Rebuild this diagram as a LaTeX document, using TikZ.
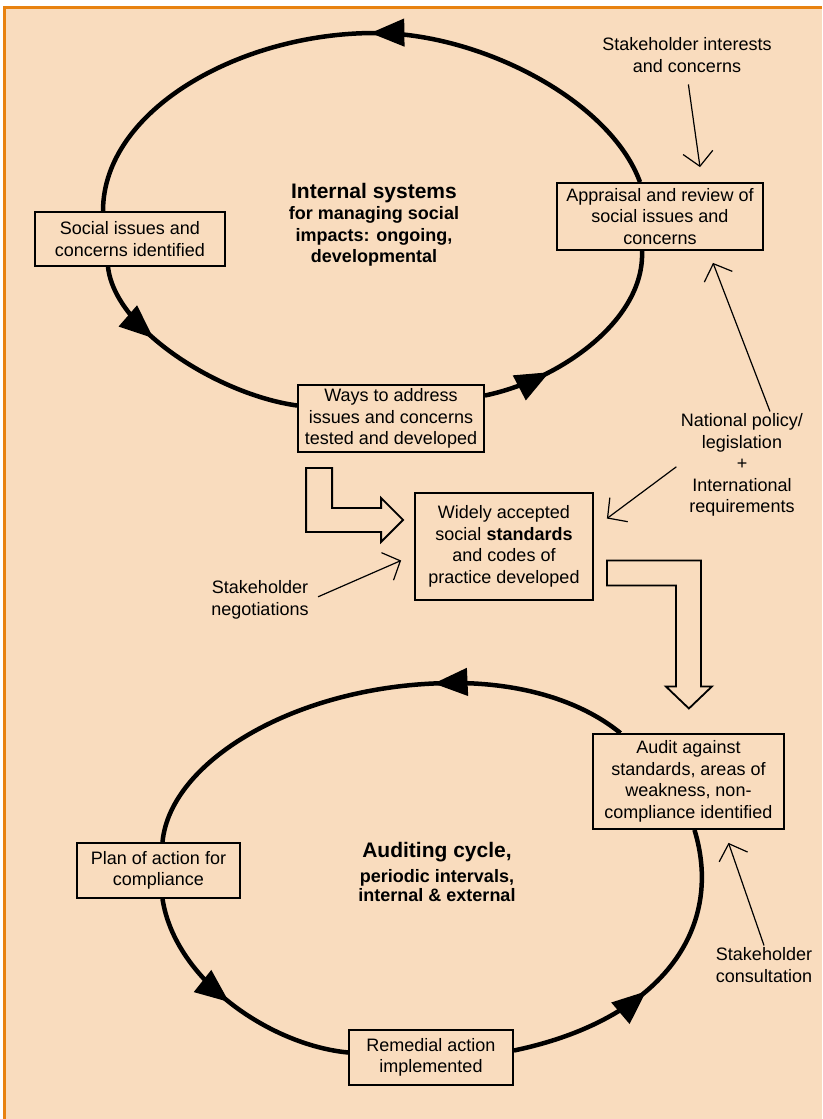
\documentclass[tikz,border=0pt]{standalone}
\usepackage{fontspec}
\setmainfont{Liberation Sans}
\usepackage{tikz}
\usetikzlibrary{arrows.meta,calc,decorations.markings}
\definecolor{peach}{RGB}{249,220,190}
\definecolor{rim}{RGB}{232,130,16}

\begin{document}
\begin{tikzpicture}
  [
    x=1pt, y=-1pt,
    box/.style =
      {draw, line width=1.8pt, fill=peach, rectangle, align=center, inner sep=2pt,
       font=\fontsize{18}{21.5}\selectfont},
    txt/.style =
      {align=center, inner sep=2pt, font=\fontsize{18}{21.5}\selectfont},
    ttl/.style =
      {align=center, inner sep=0pt, font=\bfseries\fontsize{18}{21.5}\selectfont},
    cyc/.style =
      {line width=4.5pt, decoration={markings,
         mark=at position #1 with {\arrow{Triangle[length=34pt,width=27pt]}}},
       postaction={decorate}},
    fat/.style =
      {draw, line width=1.8pt, fill=peach, line join=miter},
    feed/.style =
      {line width=1.2pt, -{Straight Barb[length=14pt,width=30pt]}}
  ]
  \useasboundingbox (0,0) rectangle (822,1119);
  \fill[white] (0,0) rectangle (822,1119);
  \fill[peach] (4,7) rectangle (822,1119);
  \draw[rim, line width=3pt] (4,1119) -- (4,7) -- (822,7);

  \node [ttl] at (374,225) (sys) {{\fontsize{21}{21.5}\selectfont Internal systems}\\
    for managing social\\ impacts: ongoing,\\ developmental};
  \node [box, minimum width=190pt, minimum height=54pt]  at (130,239)    (soc)  {Social issues and\\ concerns identified};
  \node [box, minimum width=206pt, minimum height=67pt]  at (660,216.5)  (appr) {Appraisal and review of\\ social issues and\\ concerns};
  \node [box, minimum width=186pt, minimum height=67pt]  at (391,418.5)  (ways) {Ways to address\\ issues and concerns\\ tested and developed};
  \node [box, minimum width=178pt, minimum height=107pt] at (504,546.5)  (std)  {Widely accepted\\ social \textbf{standards}\\ and codes of\\ practice developed};
  \node [box, minimum width=191pt, minimum height=95pt]  at (688.5,781.5) (aud) {Audit against\\ standards, areas of\\ weakness, non-\\ compliance identified};
  \node [box, minimum width=163pt, minimum height=55pt]  at (158.5,870.5) (plan) {Plan of action for\\ compliance};
  \node [box, minimum width=164pt, minimum height=55pt]  at (431,1057.5) (rem)  {Remedial action\\ implemented};
  \node [ttl, font=\bfseries\fontsize{18}{19.5}\selectfont] at (437,872) (audc)
    {{\fontsize{21}{21.5}\selectfont Auditing cycle,}\\[5pt] periodic intervals,\\ internal \& external};

  \node [txt] at (687,55)  (intr) {Stakeholder interests\\ and concerns};
  \node [txt] at (742,465) (natl) {National policy/\\ legislation\\ +\\ International\\ requirements};
  \node [txt] at (260,600) (nego) {Stakeholder\\ negotiations};
  \node [txt] at (764,965) (cons) {Stakeholder\\ consultation};

  \draw [cyc=0.48] ($(appr.north)+(-20,0)$) .. controls (610,100) and (480,33) .. (375,33)
                   .. controls (240,33) and (103,110) .. ($(soc.north)+(-27,0)$);
  \draw [cyc=0.35] ($(soc.south)+(-22,0)$) .. controls (115,330) and (220,395) .. ($(ways.west)+(0,-13)$);
  \draw [cyc=0.3]  ($(ways.east)+(0,-23)$) .. controls (560,380) and (645,320) .. ($(appr.south)+(-18,0)$);

  \draw [cyc=0.37] ($(aud.north)+(-68,0)$) .. controls (580,700) and (520,683) .. (455,683)
                   .. controls (300,683) and (170,760) .. ($(plan.north)+(4,0)$);
  \draw [cyc=0.49] ($(plan.south)+(4,0)$) .. controls (175,980) and (270,1045) .. ($(rem.west)+(0,-5)$);
  \draw [cyc=0.45] ($(rem.east)+(0,-7)$) .. controls (660,1020) and (725,930) .. ($(aud.south)+(6,0)$);

  \draw [fat] ($(ways.south west)+(9,15)$) -- ++(26,0) -- ++(0,40) -- ++(49,0) -- ++(0,-10)
              -- ++(22,22) -- ++(-22,22) -- ++(0,-10) -- ++(-75,0) -- cycle;
  \draw [fat] ($(std.east)+(13,14)$) -- ++(94,0) -- ++(0,126) -- ++(11,0) -- ++(-23,22)
              -- ++(-23,-22) -- ++(10,0) -- ++(0,-101) -- ++(-69,0) -- cycle;

  \draw [feed, shorten <=10pt] (intr.south) -- ($(appr.north)+(40,-15)$);
  \draw [feed] ($(natl.north)+(28,0)$) -- ($(appr.south)+(53,12)$);
  \draw [feed, shorten <=3pt] (natl.west) -- ($(std.east)+(13,-28)$);
  \draw [feed, shorten <=8pt] (nego.east) -- ($(std.west)+(-13,14)$);
  \draw [feed] (cons.north) -- ($(aud.south)+(40,13)$);

\end{tikzpicture}
\end{document}
